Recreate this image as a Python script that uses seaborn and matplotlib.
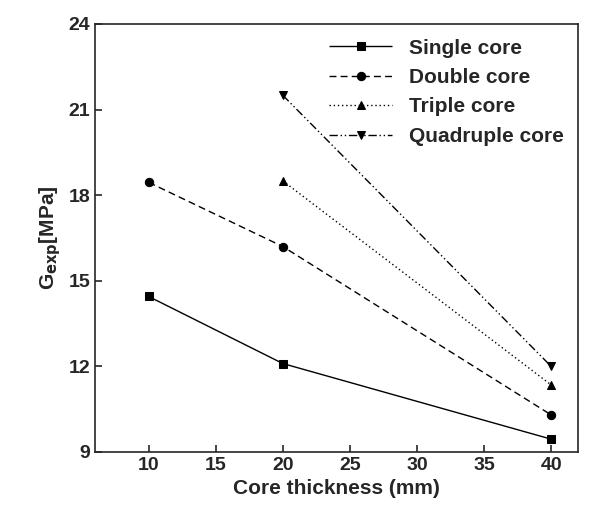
import matplotlib
matplotlib.use("Agg")
import matplotlib.pyplot as plt
import pandas as pd
import seaborn as sns

single_x = [10, 20, 40]
single_y = [14.45, 12.1, 9.45]
double_x = [10, 20, 40]
double_y = [18.45, 16.2, 10.3]
triple_x = [20, 40]
triple_y = [18.5, 11.35]
quad_x = [20, 40]
quad_y = [21.5, 12.0]
names = ["Single core", "Double core", "Triple core", "Quadruple core"]

sns.set_style("ticks")
plt.rcParams["font.family"] = ["Liberation Sans", "DejaVu Sans"]
plt.rcParams["font.weight"] = "bold"
plt.rcParams["xtick.direction"] = "in"
plt.rcParams["ytick.direction"] = "in"

fig = plt.figure(figsize=(6.05, 5.22), dpi=100)
ax = fig.add_axes([95 / 605, 1 - 452 / 522, 483 / 605, 428 / 522])

series = [(single_x, single_y, "s", (0, ())),
          (double_x, double_y, "o", (0, (5, 3))),
          (triple_x, triple_y, "^", (0, (1, 2))),
          (quad_x, quad_y, "v", (0, (6, 2, 1, 2, 1, 2)))]
for name, (xs, ys, m, ls) in zip(names, series):
    df = pd.DataFrame({"x": xs, "y": ys})
    sns.lineplot(data=df, x="x", y="y", ax=ax, color="black", marker=m,
                 markersize=6, linewidth=1, linestyle=ls, label=name,
                 markeredgecolor="black")

ax.set_xlim(6, 42)
ax.set_ylim(9, 24)
ax.set_xticks([10, 15, 20, 25, 30, 35, 40])
ax.set_yticks([9, 12, 15, 18, 21, 24])
ax.tick_params(labelsize=14, width=1.2, length=5)
for lbl in ax.get_xticklabels() + ax.get_yticklabels():
    lbl.set_fontweight("bold")
for s in ax.spines.values():
    s.set_visible(True)
    s.set_linewidth(1.2)
ax.set_xlabel("Core thickness (mm)", fontsize=15, fontweight="bold")
ax.set_ylabel(r"G$_{\mathbf{exp}}$[MPa]", fontsize=15, fontweight="bold")
ax.legend(loc="upper right", frameon=False, prop={"size": 15, "weight": "bold"},
          handlelength=3, borderaxespad=0.3, labelspacing=0.5)

fig.savefig("out.png", dpi=100)
